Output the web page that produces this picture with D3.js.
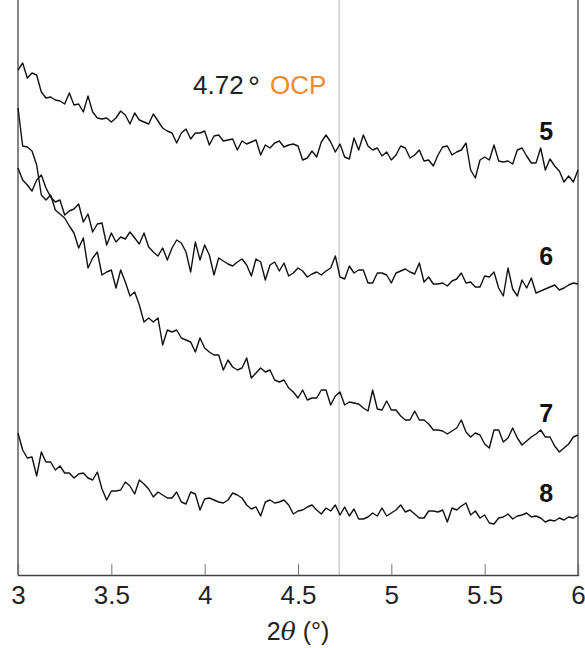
<!DOCTYPE html>
<html>
<head>
<meta charset="utf-8">
<script src="https://cdn.jsdelivr.net/npm/d3@7"></script>
<style>
  html, body { margin: 0; padding: 0; background: #fff; }
  svg { display: block; }
  text { font-family: "Liberation Sans", Arial, sans-serif; }
</style>
</head>
<body>
<svg id="chart" width="585" height="648"></svg>
<script>
// ---- Data (intensity in arbitrary, offset units) ----
const twoTheta = d3.range(121).map(i => 3 + i * 0.025);

const series5 = [530,537,522,527,525,508,502,503,500,499,
  496,507,495,496,488,504,488,482,481,482,
  478,482,489,485,476,487,480,478,476,486,
  479,472,469,467,457,467,471,461,467,467,
  469,455,464,465,459,460,461,450,459,456,
  458,460,445,455,452,457,459,453,455,456,
  454,440,442,449,443,458,465,458,448,456,
  443,441,462,450,465,454,450,452,444,448,
  440,445,454,452,442,445,450,439,440,434,
  445,453,454,445,448,450,457,430,422,440,
  443,440,455,439,438,439,436,450,452,444,
  437,437,452,430,441,434,429,418,424,418,
  430];

const series6 = [432,420,415,409,420,425,412,403,398,400,
  385,389,391,396,378,386,368,376,377,355,
  367,358,363,361,368,362,356,367,353,348,
  344,352,340,352,360,357,348,328,358,340,
  355,345,325,342,339,336,334,338,341,335,
  324,341,338,320,335,338,329,337,324,327,
  332,329,323,326,328,325,329,332,344,323,
  321,334,327,330,330,317,317,327,327,325,
  317,327,329,331,328,326,337,318,323,316,
  316,317,314,319,321,327,317,318,313,313,
  324,323,328,312,304,332,311,304,320,312,
  322,307,309,311,313,315,310,312,315,317,
  316];

const series7 = [492,454,453,449,435,405,400,405,390,386,
  382,374,367,352,362,332,342,348,325,328,
  330,312,330,318,304,308,295,278,282,278,
  282,255,270,268,270,262,260,258,248,262,
  252,248,245,245,230,240,233,230,232,242,
  222,227,232,228,230,220,218,220,212,208,
  202,210,200,202,202,210,210,195,204,208,
  195,198,197,196,192,189,210,191,190,199,
  190,190,184,180,180,189,180,180,176,170,
  170,169,166,169,172,180,168,163,167,165,
  156,152,170,170,158,162,172,162,155,159,
  163,166,170,163,163,154,148,152,156,163,
  165];

const series8 = [167,150,142,143,124,148,138,138,130,134,
  127,127,122,126,127,122,120,128,111,100,
  109,109,110,118,114,106,120,116,111,103,
  108,105,102,102,108,98,96,108,106,90,
  101,102,100,98,97,100,107,105,102,95,
  91,93,84,98,100,97,98,100,95,86,
  89,90,93,95,90,86,92,89,95,85,
  93,84,91,81,81,83,87,84,92,84,
  87,90,95,88,90,86,82,82,89,89,
  88,90,78,92,90,94,97,85,89,82,
  85,77,76,82,83,86,81,84,85,87,
  83,84,82,78,80,79,82,80,83,82,
  85];

const seriesNames = ["5", "6", "7", "8"];
const seriesValues = [series5, series6, series7, series8];
const labelValues = [462, 337, 180, 100]; // label anchor intensities (near right end)
const xTicks = [3, 3.5, 4, 4.5, 5, 5.5, 6];
const ocpPosition = 4.72;

// ---- Layout ----
const svg = d3.select("#chart");
const pLeft = 18, pRight = 578, pTop = 0, pBottom = 575;

const x = d3.scaleLinear().domain([3, 6]).range([pLeft, pRight]);
const y = d3.scaleLinear().domain([25, 600]).range([pBottom, pTop]);

// OCP reference line
svg.append("line")
  .attr("x1", x(ocpPosition)).attr("x2", x(ocpPosition))
  .attr("y1", pTop).attr("y2", pBottom)
  .attr("stroke", "#b5b5b5").attr("stroke-width", 1);

// frame sides
svg.append("line").attr("x1", pLeft).attr("x2", pLeft).attr("y1", pTop).attr("y2", pBottom)
  .attr("stroke", "#444").attr("stroke-width", 1.3);
svg.append("line").attr("x1", pRight).attr("x2", pRight).attr("y1", pTop).attr("y2", pBottom)
  .attr("stroke", "#444").attr("stroke-width", 1.3);

// x axis
const xAxis = d3.axisBottom(x).tickValues(xTicks).tickSize(-11).tickPadding(11)
  .tickFormat(d3.format("~g"));
const gx = svg.append("g").attr("transform", `translate(0,${pBottom})`).call(xAxis);
gx.select(".domain").attr("stroke", "#444").attr("stroke-width", 1.3);
gx.selectAll(".tick line").attr("stroke", "#777").attr("stroke-width", 1);
gx.selectAll(".tick text")
  .attr("font-size", 26).attr("fill", "#222")
  .attr("font-family", "Liberation Sans, Arial, sans-serif");

// axis title
const title = svg.append("text")
  .attr("x", (pLeft + pRight) / 2).attr("y", 640)
  .attr("text-anchor", "middle").attr("font-size", 25).attr("fill", "#222");
title.append("tspan").text("2");
title.append("tspan").attr("font-style", "italic").attr("font-family", "DejaVu Serif, serif").text("θ");
title.append("tspan").text(" (°)");

// traces
const line = d3.line().x((d, i) => x(twoTheta[i])).y(d => y(d));
seriesValues.forEach(vals => {
  svg.append("path").datum(vals)
    .attr("d", line)
    .attr("fill", "none")
    .attr("stroke", "#111")
    .attr("stroke-width", 1.4)
    .attr("stroke-linejoin", "round");
});

// series labels
seriesNames.forEach((n, i) => {
  svg.append("text")
    .attr("x", x(5.83)).attr("y", y(labelValues[i]) + 2)
    .attr("text-anchor", "middle")
    .attr("font-size", 25).attr("font-weight", "bold").attr("fill", "#111")
    .text(n);
});

// OCP annotation
svg.append("text").attr("x", 193).attr("y", 94)
  .attr("font-size", 26).attr("fill", "#222").text(ocpPosition.toFixed(2));
svg.append("text").attr("x", 248).attr("y", 97)
  .attr("font-size", 30).attr("fill", "#222").text("°");
svg.append("text").attr("x", 270).attr("y", 94)
  .attr("font-size", 26).attr("fill", "#f08a2c").text("OCP");
</script>
</body>
</html>
